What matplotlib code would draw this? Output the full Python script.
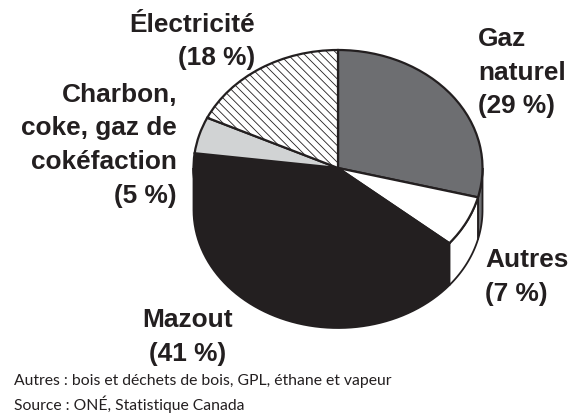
import numpy as np
import matplotlib
matplotlib.use('Agg')
import matplotlib.pyplot as plt

# parts du pie, sens horaire depuis le haut
parts = [29, 7, 41, 5, 18]
colors = ['#6d6e71', 'white', '#231f20', '#d1d3d4', 'white']
labels = ['Gaz\nnaturel\n(29 %)', 'Autres\n(7 %)', 'Mazout\n(41 %)',
          'Charbon,\ncoke, gaz de\ncokéfaction\n(5 %)', 'Électricité\n(18 %)']
notes = ['Autres : bois et déchets de bois, GPL, éthane et vapeur',
         'Source : ONÉ, Statistique Canada']
W, H = 577, 415
cx, cy, rx, ry = 338, 168, 144.5, 118
depth = 42 / ry
edge = '#231f20'

matplotlib.rcParams['hatch.linewidth'] = 0.6
fig = plt.figure(figsize=(W / 100, H / 100), dpi=100)
ax = fig.add_axes([0, 0, 1, 1])

# paroi du cylindre, seulement la moitié avant est visible
start = 90.0
for p, c in zip(parts, colors):
    end = start - p * 3.6
    lo, hi = max(end, -180), min(start, 0)
    if lo < hi:
        t = np.radians(np.linspace(lo, hi, 60))
        xs = np.r_[np.cos(t), np.cos(t[::-1])]
        ys = np.r_[np.sin(t) - depth, np.sin(t[::-1])]
        ax.fill(xs, ys, facecolor=c, edgecolor=edge, linewidth=1.3, zorder=1)
    start = end

wedges, _ = ax.pie(parts, colors=colors, startangle=90, counterclock=False, radius=1,
                   wedgeprops=dict(edgecolor=edge, linewidth=1.6))
for w in wedges:
    w.set_zorder(2)
wedges[4].set_hatch('\\\\\\\\')

ax.set_aspect('auto')
ax.set_xlim(-cx / rx, (W - cx) / rx)
ax.set_ylim(-(H - cy) / ry, cy / ry)
ax.axis('off')

bold = dict(family=['Liberation Sans', 'DejaVu Sans'], weight='bold', fontsize=18.9, color=edge, linespacing=1.5)
pos = [(478, 27, 'left'), (485, 248, 'left'), (188, 308, 'center'),
       (177, 83, 'right'), (255, 13, 'right')]
for lab, (x, y, ha) in zip(labels, pos):
    fig.text(x / W, 1 - y / H, lab, ha=ha, va='top', multialignment=ha, **bold)

for note, y in zip(notes, [385, 410]):
    fig.text(14 / W, 1 - y / H, note, family='Lato', fontsize=11.3, color=edge, ha='left', va='baseline')

fig.savefig('out.png', dpi=100)
